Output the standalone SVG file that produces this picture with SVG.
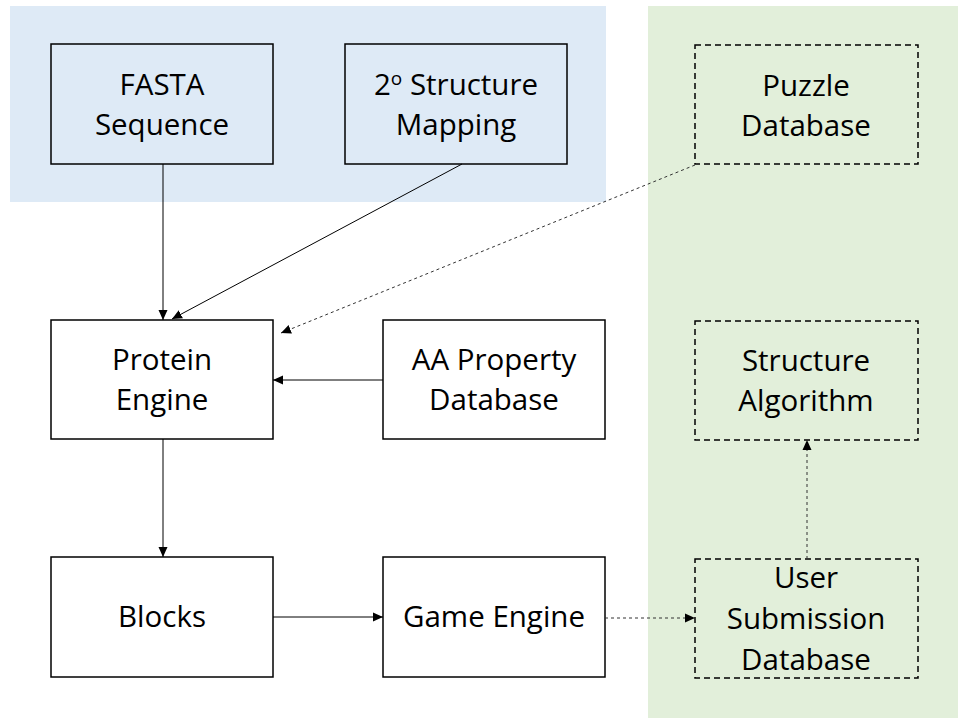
<svg xmlns="http://www.w3.org/2000/svg" width="966" height="726" viewBox="0 0 966 726">
<style>
.box{stroke:#000;stroke-width:1.5;fill:none}
.wbox{stroke:#000;stroke-width:1.5;fill:#fff}
.dbox{stroke:#000;stroke-width:1.5;fill:none;stroke-dasharray:6 4}
.lbl{font-family:"Open Sans","Noto Sans",sans-serif;font-size:29.5px;fill:#000;text-anchor:middle}
.solid{stroke:#000;stroke-width:1;fill:none;marker-end:url(#ah)}
.dot{stroke:#333;stroke-width:1;fill:none;stroke-dasharray:3 3;marker-end:url(#ah)}
</style>
<defs>
<marker id="ah" markerUnits="userSpaceOnUse" markerWidth="11" markerHeight="11" refX="10" refY="5.5" orient="auto">
<path d="M0,1 L10,5.5 L0,10 z" fill="#000"/>
</marker>
</defs>
<rect x="0" y="0" width="966" height="726" fill="#fff"/>
<rect id="region-input" x="10" y="6" width="596" height="196" fill="#DEEAF6"/>
<rect id="region-db" x="648" y="6" width="310" height="712" fill="#E2EFDA"/>

<g id="fasta"><rect class="box" x="51" y="44" width="222" height="120"/>
<text class="lbl" x="162" y="95">FASTA</text><text class="lbl" x="162" y="135">Sequence</text></g>
<g id="structure-mapping"><rect class="box" x="345" y="44" width="222" height="120"/>
<text class="lbl" x="456" y="95">2<tspan font-size="19" dy="-10">o</tspan><tspan dy="10"> Structure</tspan></text><text class="lbl" x="456" y="135">Mapping</text></g>
<g id="puzzle-db"><rect class="dbox" x="695" y="45" width="223" height="119"/>
<text class="lbl" x="806" y="96">Puzzle</text><text class="lbl" x="806" y="136">Database</text></g>
<g id="protein-engine"><rect class="wbox" x="51" y="320" width="222" height="119"/>
<text class="lbl" x="162" y="370">Protein</text><text class="lbl" x="162" y="410">Engine</text></g>
<g id="aa-property"><rect class="wbox" x="383" y="320" width="222" height="119"/>
<text class="lbl" x="494" y="370">AA Property</text><text class="lbl" x="494" y="410">Database</text></g>
<g id="structure-algorithm"><rect class="dbox" x="695" y="321" width="223" height="119"/>
<text class="lbl" x="806" y="371">Structure</text><text class="lbl" x="806" y="411">Algorithm</text></g>
<g id="blocks"><rect class="wbox" x="51" y="557" width="222" height="120"/>
<text class="lbl" x="162" y="627">Blocks</text></g>
<g id="game-engine"><rect class="wbox" x="383" y="557" width="222" height="120"/>
<text class="lbl" x="494" y="627">Game Engine</text></g>
<g id="user-submission"><rect class="dbox" x="695" y="559" width="223" height="119"/>
<text class="lbl" x="806" y="588">User</text><text class="lbl" x="806" y="629">Submission</text><text class="lbl" x="806" y="670">Database</text></g>

<g id="connectors">
<path class="solid" d="M163,164 L163,320"/>
<path class="solid" d="M462,164 L172,319"/>
<path class="dot" d="M695,165 L281,333"/>
<path class="solid" d="M383,380 L273,380"/>
<path class="solid" d="M163,439 L163,557"/>
<path class="solid" d="M273,617 L383,617"/>
<path class="dot" d="M605,618 L695,618"/>
<path class="dot" d="M807,559 L807,440"/>
</g>
</svg>
